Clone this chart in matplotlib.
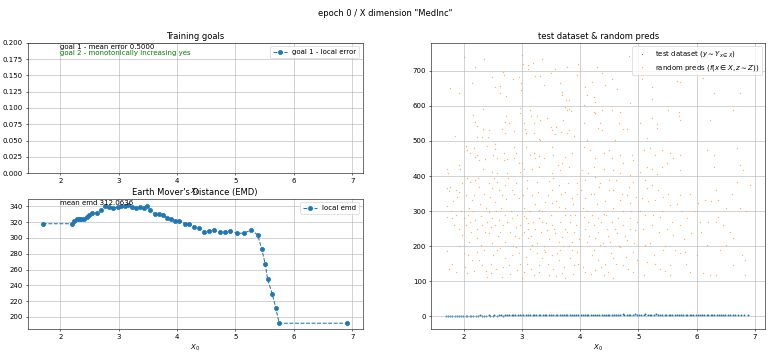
import matplotlib
matplotlib.use("Agg")
import matplotlib.pyplot as plt

# EMD per X_0 bin
emd_x = [1.70, 2.20, 2.24, 2.28, 2.32, 2.36, 2.41, 2.45, 2.49, 2.55, 2.62, 2.69,
         2.77, 2.84, 2.90, 2.98, 3.04, 3.11, 3.16, 3.22, 3.29, 3.37, 3.43, 3.49,
         3.54, 3.62, 3.69, 3.76, 3.83, 3.90, 3.97, 4.04, 4.13, 4.21, 4.29, 4.37,
         4.46, 4.54, 4.63, 4.73, 4.82, 4.91, 5.03, 5.14, 5.27, 5.38, 5.45, 5.51,
         5.55, 5.63, 5.69, 5.75, 6.92]
emd_y = [318, 318, 322, 323.5, 324, 324, 324, 326.5, 329, 331, 332, 335,
         341, 339, 338, 339, 340, 341, 342, 339, 338, 339, 338, 340,
         335, 330, 330, 329, 325, 324, 321, 322, 318, 318, 314, 313,
         307.5, 309, 309.5, 307, 307, 309, 306, 306, 310, 304, 286, 267,
         248, 229, 211.5, 192, 192]
mean_error = 0.5
mean_emd = 312.0636

# test dataset (y values near zero)
test_x = [1.70, 1.73, 1.77, 1.80, 1.85, 1.88, 1.92, 1.95, 1.99, 2.03, 2.05, 2.10,
          2.13, 2.16, 2.21, 2.24, 2.27, 2.32, 2.34, 2.38, 2.43, 2.45, 2.50, 2.52,
          2.57, 2.60, 2.64, 2.67, 2.70, 2.75, 2.78, 2.82, 2.85, 2.88, 2.93, 2.96,
          3.00, 3.02, 3.06, 3.11, 3.13, 3.18, 3.21, 3.24, 3.29, 3.31, 3.36, 3.39,
          3.42, 3.47, 3.50, 3.53, 3.58, 3.60, 3.65, 3.68, 3.72, 3.75, 3.78, 3.83,
          3.86, 3.90, 3.93, 3.96, 4.01, 4.04, 4.08, 4.11, 4.14, 4.19, 4.22, 4.26,
          4.29, 4.32, 4.37, 4.40, 4.44, 4.47, 4.50, 4.55, 4.58, 4.62, 4.65, 4.68,
          4.73, 4.76, 4.80, 4.83, 4.86, 4.91, 4.94, 4.98, 5.01, 5.04, 5.09, 5.12,
          5.16, 5.19, 5.22, 5.27, 5.30, 5.34, 5.37, 5.40, 5.45, 5.48, 5.52, 5.55,
          5.58, 5.63, 5.66, 5.70, 5.73, 5.76, 5.81, 5.84, 5.88, 5.91, 5.94, 5.99,
          6.02, 6.06, 6.09, 6.12, 6.17, 6.20, 6.24, 6.27, 6.30, 6.35, 6.38, 6.42,
          6.46, 6.49, 6.53, 6.57, 6.62, 6.66, 6.71, 6.76, 6.82, 6.88]
test_y = [0.8, 1.2, 0.6, 1.5, 0.9, 1.3, 1.1, 0.7, 1.6, 1.0, 1.4, 1.8,
          1.2, 0.9, 1.7, 1.5, 2.0, 1.3, 1.9, 1.6, 2.2, 1.4, 1.8, 2.3,
          1.7, 2.1, 2.5, 1.9, 2.4, 2.0, 2.6, 2.2, 2.8, 2.3, 2.7, 3.0,
          2.5, 2.9, 3.2, 2.4, 3.1, 2.8, 3.4, 2.6, 3.3, 3.0, 3.6, 2.9,
          3.5, 3.2, 3.8, 3.1, 3.7, 3.4, 3.9, 3.3, 4.0, 3.5, 3.8, 3.6,
          4.1, 3.7, 4.2, 3.9, 4.3, 4.0, 3.8, 4.4, 4.1, 3.9, 4.5, 4.2,
          4.0, 4.6, 4.3, 4.1, 4.4, 4.7, 4.2, 4.5, 4.8, 4.3, 4.6, 4.4,
          4.9, 4.5, 4.7, 4.6, 4.8, 4.5, 4.9, 4.7, 4.6, 4.8, 4.5, 4.9,
          4.7, 4.6, 4.8, 4.4, 4.9, 4.7, 4.5, 4.8, 4.6, 4.4, 4.7, 4.5,
          4.8, 4.3, 4.6, 4.4, 4.7, 4.5, 4.2, 4.6, 4.4, 4.1, 4.5, 4.3,
          4.0, 4.4, 4.2, 3.9, 4.3, 4.1, 3.8, 4.2, 4.0, 3.7, 4.1, 3.9,
          3.6, 4.0, 3.8, 3.5, 3.9, 3.7, 3.4, 3.6, 3.3, 3.5]

# random predictions (x, y)
pred_points = [
    (2.00, 739), (3.00, 746), (2.20, 710), (2.34, 733), (1.76, 652), (1.91, 638),
    (2.14, 665), (2.49, 682), (2.67, 698), (2.69, 689), (2.54, 655), (2.63, 657),
    (2.73, 627), (2.63, 636), (2.84, 676), (2.95, 682), (2.98, 665), (2.99, 646),
    (3.01, 720), (3.11, 717), (3.19, 722), (3.34, 734), (3.11, 705), (3.23, 684),
    (3.31, 684), (3.49, 693), (3.56, 706), (3.77, 712), (3.66, 665), (3.69, 641),
    (3.69, 631), (3.75, 617), (3.81, 617), (3.73, 598), (3.78, 587), (3.84, 586),
    (3.81, 530), (3.77, 522), (3.67, 527), (3.95, 689), (3.97, 720), (3.37, 660),
    (2.16, 574), (2.33, 590), (2.20, 555), (2.23, 543), (2.33, 533), (2.43, 531),
    (2.31, 512), (2.23, 512), (2.41, 512), (1.85, 514), (2.73, 570), (2.71, 555),
    (2.77, 550), (2.66, 533), (2.70, 524), (2.86, 529), (2.97, 593), (2.97, 579),
    (3.03, 552), (3.05, 533), (3.06, 522), (3.14, 587), (3.15, 571), (3.26, 570),
    (3.20, 552), (3.31, 560), (3.43, 565), (3.50, 539), (3.51, 530), (3.58, 539),
    (3.56, 520), (3.70, 560), (3.81, 590), (3.89, 514), (3.31, 503), (3.29, 505),
    (3.21, 524),
    (2.03, 486), (2.06, 474), (2.10, 465), (2.17, 479), (2.20, 455), (2.23, 460),
    (2.26, 446), (2.37, 448), (2.40, 486), (2.53, 490), (2.54, 476), (2.51, 460),
    (2.57, 450), (2.69, 446), (2.74, 448), (2.86, 450), (2.89, 465), (2.94, 436),
    (3.00, 436), (3.03, 421), (2.97, 412), (2.86, 484), (2.69, 465), (3.06, 482),
    (3.13, 460), (3.20, 465), (3.23, 450), (3.29, 457), (3.17, 421), (3.29, 426),
    (3.37, 450), (3.51, 484), (3.54, 460), (3.62, 431), (3.69, 436), (3.73, 455),
    (3.80, 425), (3.86, 465), (3.66, 417), (3.51, 408), (2.74, 409), (2.49, 412),
    (2.33, 421), (1.71, 421), (1.73, 409), (1.91, 431), (1.94, 421), (2.57, 408),
    (4.83, 743), (4.29, 712), (4.37, 695), (4.20, 667), (4.43, 660), (4.54, 676),
    (4.09, 655), (4.11, 631), (4.23, 626), (4.26, 612), (4.06, 603), (4.63, 648),
    (4.86, 608), (5.06, 676), (5.23, 655), (5.23, 619), (5.66, 670), (5.71, 667),
    (6.11, 679), (6.29, 636), (6.74, 638), (4.23, 584), (4.25, 579), (4.37, 589),
    (4.54, 589), (4.69, 584), (4.06, 550), (4.34, 550), (4.31, 536), (4.37, 531),
    (4.74, 533), (4.80, 533), (4.66, 552), (5.03, 552), (5.23, 565), (5.31, 548),
    (5.51, 589), (5.69, 570), (5.71, 560), (5.69, 582), (6.63, 589), (5.14, 508),
    (5.31, 536), (6.23, 560), (4.11, 503), (4.60, 503),
    (4.06, 484), (4.17, 474), (4.26, 450), (4.40, 465), (4.49, 474), (4.54, 450),
    (4.69, 460), (4.74, 436), (4.89, 460), (4.91, 446), (4.23, 426), (4.40, 421),
    (4.57, 418), (4.86, 403), (5.09, 474), (5.20, 479), (5.29, 460), (5.40, 474),
    (5.54, 465), (5.60, 450), (5.14, 426), (5.23, 421), (5.40, 426), (5.49, 436),
    (5.71, 460), (5.71, 418), (6.17, 474), (6.29, 460), (6.29, 426), (6.74, 431),
    (6.80, 417), (6.69, 479), (4.03, 417), (4.14, 408), (4.26, 398), (4.69, 408),
    (5.03, 412), (5.31, 405),
    (1.71, 365), (1.74, 357), (1.77, 370), (1.86, 360), (1.91, 355), (1.97, 379),
    (2.03, 346), (2.11, 384), (2.20, 389), (2.14, 331), (2.09, 308), (1.71, 315),
    (1.71, 284), (1.80, 279), (1.83, 260), (1.86, 290), (1.91, 250), (1.97, 231),
    (2.00, 279), (2.03, 260), (2.11, 270), (2.20, 274), (2.23, 250), (2.31, 260),
    (2.40, 270), (2.49, 279), (2.54, 260), (2.61, 274), (2.71, 289), (2.74, 270),
    (2.83, 279), (2.89, 255), (2.94, 222), (2.43, 298), (2.54, 327), (2.66, 346),
    (2.71, 374), (2.83, 360), (2.49, 365), (2.34, 350), (2.26, 370), (2.43, 379),
    (2.57, 384), (2.89, 379), (2.94, 336), (3.03, 308), (3.07, 279), (3.11, 265),
    (3.03, 241), (3.11, 222), (3.17, 203), (3.23, 250), (3.29, 279), (3.34, 270),
    (3.43, 246), (3.51, 260), (3.57, 236), (3.63, 212), (3.69, 227), (3.74, 250),
    (3.83, 270), (3.89, 241), (3.86, 212), (3.91, 289), (3.74, 289), (3.63, 312),
    (3.51, 322), (3.40, 327), (3.29, 303), (3.17, 346), (3.09, 365), (3.26, 384),
    (3.46, 386), (3.63, 374), (3.74, 355), (3.86, 336), (3.94, 379), (3.51, 360),
    (1.71, 186), (1.74, 136), (1.86, 127), (2.00, 181), (2.06, 122), (2.14, 160),
    (2.23, 184), (2.31, 146), (2.40, 112), (2.46, 122), (2.51, 174), (2.57, 189),
    (2.66, 112), (2.71, 165), (2.77, 146), (2.83, 174), (2.91, 131), (2.97, 150),
    (3.03, 127), (3.06, 170), (3.14, 193), (3.20, 117), (3.29, 146), (3.34, 165),
    (3.40, 184), (3.46, 117), (3.54, 136), (3.63, 160), (3.69, 122), (3.74, 108),
    (3.83, 165), (3.89, 146), (3.94, 184), (2.29, 203), (2.09, 212), (2.49, 208),
    (2.71, 212), (2.89, 198), (2.43, 236), (2.63, 241), (2.23, 222),
    (1.78, 300), (1.82, 330), (1.88, 340), (1.95, 300), (2.05, 395), (2.08, 290),
    (2.12, 240), (2.16, 300), (2.18, 345), (2.25, 395), (2.28, 320), (2.30, 285),
    (2.36, 240), (2.38, 310), (2.45, 340), (2.47, 255), (2.52, 395), (2.55, 300),
    (2.58, 230), (2.60, 360), (2.64, 310), (2.68, 260), (2.72, 335), (2.76, 395),
    (2.79, 240), (2.81, 300), (2.86, 350), (2.88, 230), (2.92, 290), (2.96, 260),
    (3.01, 345), (3.04, 285), (3.08, 390), (3.10, 250), (3.13, 300), (3.16, 230),
    (3.18, 270), (3.22, 320), (3.25, 210), (3.27, 355), (3.32, 240), (3.35, 300),
    (3.38, 190), (3.41, 265), (3.44, 345), (3.47, 220), (3.50, 290), (3.53, 395),
    (3.55, 250), (3.58, 330), (3.60, 180), (3.65, 270), (3.67, 350), (3.71, 200),
    (3.73, 310), (3.77, 240), (3.79, 380), (3.82, 290), (3.85, 190), (3.88, 320),
    (3.92, 260), (3.95, 350), (3.98, 220),
    (1.80, 150), (1.92, 200), (2.02, 140), (2.08, 175), (2.18, 130), (2.26, 160),
    (2.35, 190), (2.38, 130), (2.47, 150), (2.55, 135), (2.62, 195), (2.68, 140),
    (2.80, 120), (2.85, 200), (2.95, 180), (3.00, 110), (3.08, 150), (3.15, 135),
    (3.25, 180), (3.30, 125), (3.38, 200), (3.45, 150), (3.52, 175), (3.58, 115),
    (3.66, 190), (3.72, 140), (3.80, 200), (3.87, 120), (3.96, 150),
    (4.09, 336), (4.23, 350), (4.34, 379), (4.49, 389), (4.57, 360), (4.69, 331),
    (4.80, 346), (4.91, 384), (4.86, 322), (4.06, 284), (4.14, 270), (4.09, 250),
    (4.23, 260), (4.31, 279), (4.40, 293), (4.46, 250), (4.54, 270), (4.63, 236),
    (4.74, 260), (4.86, 279), (4.94, 246), (4.11, 212), (4.26, 222), (4.34, 203),
    (4.51, 212), (4.69, 198), (4.80, 217), (4.91, 184), (4.20, 174), (4.31, 160),
    (4.43, 150), (4.57, 165), (4.74, 146), (4.09, 127), (4.26, 131), (4.40, 117),
    (4.57, 108), (4.91, 127),
    (4.02, 360), (4.05, 310), (4.08, 390), (4.12, 300), (4.15, 230), (4.18, 350),
    (4.21, 290), (4.24, 190), (4.28, 320), (4.30, 240), (4.33, 370), (4.36, 270),
    (4.39, 210), (4.42, 330), (4.45, 290), (4.48, 230), (4.50, 360), (4.53, 180),
    (4.56, 310), (4.59, 250), (4.61, 390), (4.65, 280), (4.67, 200), (4.71, 350),
    (4.73, 300), (4.77, 230), (4.79, 170), (4.83, 370), (4.85, 250), (4.88, 300),
    (4.92, 210), (4.95, 340), (4.98, 270), (4.05, 140), (4.18, 120), (4.35, 140),
    (4.48, 125), (4.62, 150), (4.82, 135), (4.97, 160),
    (5.06, 336), (5.14, 365), (5.23, 374), (5.29, 331), (5.43, 341), (5.54, 317),
    (5.71, 346), (5.89, 350), (5.11, 289), (5.23, 260), (5.37, 284), (5.49, 250),
    (5.60, 231), (5.71, 260), (5.91, 236), (5.11, 203), (5.26, 174), (5.43, 189),
    (5.54, 146), (5.71, 179), (5.80, 184), (5.09, 117), (5.54, 117), (6.00, 174),
    (6.11, 122), (6.23, 117), (6.34, 117), (6.03, 322), (6.14, 331), (6.34, 360),
    (6.37, 331), (6.51, 308), (6.74, 308), (6.91, 374), (6.69, 384), (6.06, 270),
    (6.20, 270), (6.34, 270), (6.37, 284), (6.57, 241), (6.63, 222), (6.51, 203),
    (6.77, 174), (6.83, 160), (6.83, 117), (6.63, 146), (6.17, 203), (5.89, 127),
    (5.37, 136),
    (5.03, 300), (5.08, 250), (5.12, 390), (5.17, 330), (5.20, 210), (5.25, 290),
    (5.28, 150), (5.33, 360), (5.36, 240), (5.40, 300), (5.46, 200), (5.50, 350),
    (5.57, 270), (5.62, 190), (5.66, 320), (5.74, 300), (5.78, 220), (5.84, 280),
    (5.95, 300), (6.08, 240), (6.25, 330), (6.45, 260), (6.60, 350), (6.85, 300),
    (5.15, 155), (5.45, 130), (5.82, 150), (6.40, 190),
]
pred_x = [p[0] for p in pred_points]
pred_y = [p[1] for p in pred_points]

xlim = (1.44, 7.18)

fig = plt.figure(figsize=(15.4, 7.14), dpi=50)
fig.suptitle('epoch 0 / X dimension "MedInc"', y=0.975)

ax_goal = fig.add_axes([0.036, 0.515, 0.435, 0.365])
ax_emd = fig.add_axes([0.036, 0.078, 0.435, 0.365])
ax_sc = fig.add_axes([0.560, 0.078, 0.434, 0.802])

# training goals
ax_goal.plot([], [], "o--", label="goal 1 - local error")
ax_goal.set_xlim(*xlim)
ax_goal.set_ylim(0, 0.2)
ax_goal.text(2.0, 0.1905, f"goal 1 - mean error {mean_error:.4f}")
ax_goal.text(2.0, 0.1815, "goal 2 - monotonically increasing yes", color="green")
ax_goal.set_title("Training goals")
ax_goal.set_xlabel("$X_0$")
ax_goal.grid(True)
ax_goal.legend(loc="upper right")

# EMD
ax_emd.plot(emd_x, emd_y, "o--", label="local emd")
ax_emd.set_xlim(*xlim)
ax_emd.text(2.0, 341.5, f"mean emd {mean_emd:.4f}")
ax_emd.set_title("Earth Mover's Distance (EMD)")
ax_emd.set_xlabel("$X_0$")
ax_emd.grid(True)
ax_emd.legend(loc="upper right")

# scatter
ax_sc.scatter(test_x, test_y, s=8, linewidths=0, label=r"test dataset ($y \sim Y_{x \in X}$)")
ax_sc.scatter(pred_x, pred_y, s=4, linewidths=0, alpha=0.6,
              label=r"random preds ($f(x \in X, z \sim Z)$)")
ax_sc.set_xlim(*xlim)
ax_sc.set_ylim(-37, 780)
ax_sc.set_title("test dataset & random preds")
ax_sc.set_xlabel("$X_0$")
ax_sc.grid(True)
ax_sc.legend(loc="upper right", markerscale=0.6)

fig.savefig("out.png", dpi=50)
